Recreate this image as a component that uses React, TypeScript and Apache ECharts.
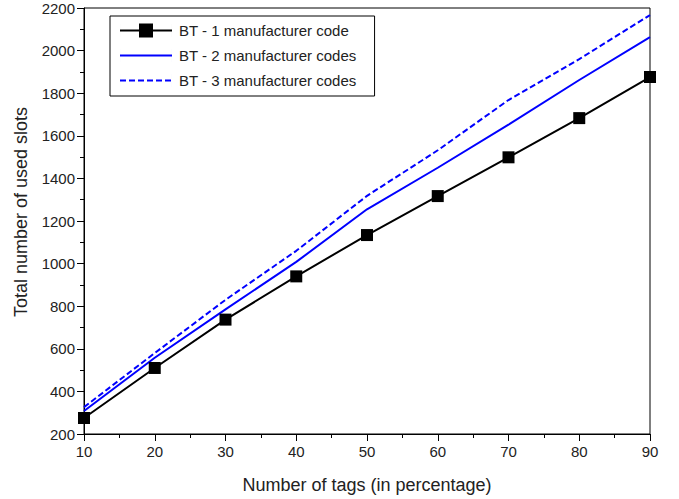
import React, { useEffect, useRef } from "react";
import * as echarts from "echarts";

const xTags = [10, 20, 30, 40, 50, 60, 70, 80, 90];
const bt1 = [275, 510, 737, 940, 1134, 1317, 1499, 1683, 1876];
const bt2 = [308, 558, 785, 1008, 1255, 1450, 1652, 1862, 2063];
const bt3 = [326, 580, 830, 1060, 1318, 1532, 1768, 1960, 2167];
const seriesNames = [
  "BT - 1 manufacturer code",
  "BT - 2 manufacturer codes",
  "BT - 3 manufacturer codes",
];

const FONT = 'Arial, "Liberation Sans", sans-serif';

// legend icon paths (52 x 14 box)
const iconSquareLine = "path://M0,6H52V8H0Z M19,0H33V14H19Z M0,0H0.01V14H0Z M51.99,0H52V14H51.99Z";
const iconLine = "path://M0,6H52V8H0Z M0,0H0.01V14H0Z M51.99,0H52V14H51.99Z";
const iconDash =
  "path://M0,6H6V8H0Z M9,6H15V8H9Z M18,6H24V8H18Z M27,6H33V8H27Z M36,6H42V8H36Z M45,6H51V8H45Z M0,0H0.01V14H0Z M51.99,0H52V14H51.99Z";

export default function App() {
  const ref = useRef<HTMLDivElement>(null);
  useEffect(() => {
    if (!ref.current) return;
    const chart = echarts.init(ref.current, undefined, { renderer: "svg" });
    const pairs = (ys: number[]) => xTags.map((x, i) => [x, ys[i]]);
    chart.setOption({
      animation: false,
      backgroundColor: "#ffffff",
      textStyle: { fontFamily: FONT },
      grid: {
        left: 84,
        right: 29,
        top: 8,
        bottom: 65,
        show: true,
        borderColor: "#000",
        borderWidth: 1,
        backgroundColor: "transparent",
      },
      legend: {
        orient: "vertical",
        left: 110,
        top: 16,
        itemWidth: 52,
        itemHeight: 14,
        itemGap: 10,
        padding: [7, 18, 8, 10],
        borderColor: "#000",
        borderWidth: 1,
        backgroundColor: "#fff",
        textStyle: { fontFamily: FONT, fontSize: 15, color: "#222", padding: [0, 0, 0, 2] },
        data: [
          { name: seriesNames[0], icon: iconSquareLine, itemStyle: { color: "#000", borderWidth: 0 } },
          { name: seriesNames[1], icon: iconLine, itemStyle: { color: "#0000ff", borderWidth: 0 } },
          { name: seriesNames[2], icon: iconDash, itemStyle: { color: "#0000ff", borderWidth: 0 } },
        ],
      },
      xAxis: {
        type: "value",
        min: 10,
        max: 90,
        interval: 10,
        name: "Number of tags (in percentage)",
        nameLocation: "middle",
        nameGap: 42,
        nameTextStyle: { fontFamily: FONT, fontSize: 18, color: "#222" },
        axisLine: { show: true, lineStyle: { color: "#000", width: 1 } },
        axisTick: { show: true, inside: false, length: 7, lineStyle: { color: "#000" } },
        minorTick: { show: true, splitNumber: 2, length: 4, lineStyle: { color: "#000" } },
        axisLabel: { fontFamily: FONT, fontSize: 15, color: "#222", margin: 10 },
        splitLine: { show: false },
      },
      yAxis: {
        type: "value",
        min: 200,
        max: 2200,
        interval: 200,
        name: "Total number of used slots",
        nameLocation: "middle",
        nameGap: 54,
        nameTextStyle: { fontFamily: FONT, fontSize: 18, color: "#222", padding: [0, 0, 0, 18] },
        axisLine: { show: true, lineStyle: { color: "#000", width: 1 } },
        axisTick: { show: true, inside: false, length: 7, lineStyle: { color: "#000" } },
        minorTick: { show: true, splitNumber: 2, length: 4, lineStyle: { color: "#000" } },
        axisLabel: {
          fontFamily: FONT,
          fontSize: 15,
          color: "#222",
          margin: 9,
          formatter: (v: number) => String(v),
        },
        splitLine: { show: false },
      },
      series: [
        {
          name: seriesNames[0],
          type: "line",
          data: pairs(bt1),
          symbol: "rect",
          symbolSize: 12,
          itemStyle: { color: "#000" },
          lineStyle: { color: "#000", width: 2 },
          z: 3,
        },
        {
          name: seriesNames[1],
          type: "line",
          data: pairs(bt2),
          symbol: "none",
          itemStyle: { color: "#0000ff" },
          lineStyle: { color: "#0000ff", width: 2 },
        },
        {
          name: seriesNames[2],
          type: "line",
          data: pairs(bt3),
          symbol: "none",
          itemStyle: { color: "#0000ff" },
          lineStyle: { color: "#0000ff", width: 2, type: [6, 3] },
        },
      ],
    });
    return () => chart.dispose();
  }, []);
  return (
    <div
      ref={ref}
      style={{ position: "fixed", left: 0, top: 0, width: 679, height: 499, background: "#fff" }}
    />
  );
}
